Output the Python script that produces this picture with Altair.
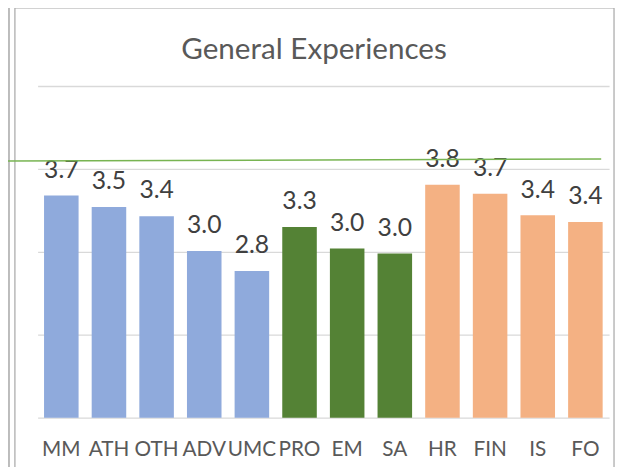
import altair as alt
import pandas as pd

categories = ["MM", "ATH", "OTH", "ADV", "UMC", "PRO", "EM", "SA", "HR", "FIN", "IS", "FO"]
values = [3.68, 3.54, 3.43, 3.01, 2.77, 3.30, 3.04, 2.98, 3.81, 3.70, 3.44, 3.36]
groups = ["A", "A", "A", "A", "A", "B", "B", "B", "C", "C", "C", "C"]
group_names = ["A", "B", "C"]
group_colors = ["#8faadc", "#548235", "#f4b183"]
title_text = "General Experiences"

df = pd.DataFrame({"cat": categories, "val": values, "grp": groups})

FONT = "Lato"
W, H = 579, 336

x = alt.X("cat:N", sort=categories,
          scale=alt.Scale(paddingInner=0.275, paddingOuter=0.135),
          axis=alt.Axis(title=None, labelAngle=0, labelFont=FONT, labelFontSize=21,
                        labelColor="#595959", labelPadding=21, domain=False, ticks=False,
                        grid=False, labelOverlap=False))
y = alt.Y("val:Q", scale=alt.Scale(domain=[1, 5], nice=False, zero=False),
          axis=alt.Axis(title=None, labels=False, ticks=False, domain=False,
                        grid=True, gridColor="#d9d9d9", gridWidth=1.3,
                        values=[1, 2, 3, 4, 5]))

base = alt.Chart(df)

bars = base.mark_bar().encode(
    x=x, y=y, y2=alt.datum(1),
    color=alt.Color("grp:N", scale=alt.Scale(domain=group_names, range=group_colors), legend=None),
)

labels = base.mark_text(font=FONT, fontSize=25, color="#404040", baseline="alphabetic", dy=-18).encode(
    x=alt.X("cat:N", sort=categories), y="val:Q", text=alt.Text("val:Q", format=".1f")
)

frame = alt.Chart(pd.DataFrame({"a": [0]})).mark_rect(fill=None, stroke="#a6a6a6", strokeWidth=1.2).encode(
    x=alt.value(-23), x2=alt.value(584), y=alt.value(-79), y2=alt.value(420)
)
leftline = alt.Chart(pd.DataFrame({"a": [0]})).mark_rule(color="#a6a6a6", strokeWidth=1.5).encode(
    x=alt.value(-29), y=alt.value(-90), y2=alt.value(420)
)
greenline = alt.Chart(pd.DataFrame({"a": [0]})).mark_rule(color="#78b452", strokeWidth=1.5).encode(
    x=alt.value(-38), x2=alt.value(571), y=alt.value(76), y2=alt.value(74)
)
title = alt.Chart(pd.DataFrame({"t": [title_text]})).mark_text(
    font=FONT, fontSize=30, color="#595959", baseline="alphabetic", align="center"
).encode(x=alt.value(280), y=alt.value(-27), text="t:N")

chart = alt.layer(frame, leftline, bars, labels, greenline, title).properties(
    width=W, height=H,
    autosize=alt.AutoSizeParams(type="none"),
    padding={"left": 30, "top": 76, "right": 7, "bottom": 47},
).configure_view(stroke=None)

chart.save("out.html", embed_options={"renderer": "svg", "actions": False})
